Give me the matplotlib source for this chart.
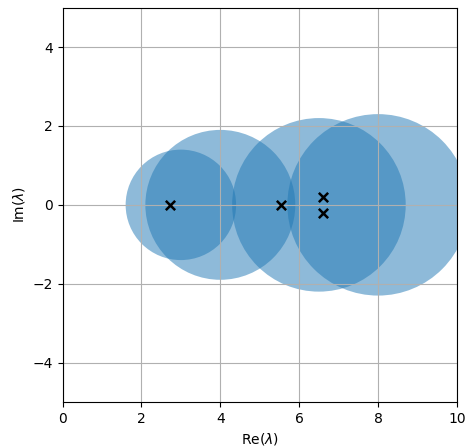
import matplotlib
matplotlib.use("Agg")
import matplotlib.pyplot as plt
from matplotlib.patches import Circle

centers = [3.0, 4.0, 6.5, 8.0]
radii = [1.4, 1.9, 2.2, 2.3]
eig_re = [2.73, 5.53, 6.61, 6.61]
eig_im = [0.0, 0.0, 0.21, -0.2]

fig = plt.figure(figsize=(4.69, 4.48), dpi=100)
ax = fig.add_axes([0.1333, 0.1025, 0.8411, 0.8805])
for c, r in zip(centers, radii):
    ax.add_patch(Circle((c, 0), r, color='tab:blue', alpha=0.5, lw=0))
ax.scatter(eig_re, eig_im, marker='x', color='k', s=45, linewidths=1.8, zorder=3)
ax.set_xlim(0, 10)
ax.set_ylim(-5, 5)
ax.set_aspect('equal')
ax.grid(True)
ax.set_xlabel(r'Re($\lambda$)')
ax.set_ylabel(r'Im($\lambda$)')
fig.savefig('out.png', dpi=100)
